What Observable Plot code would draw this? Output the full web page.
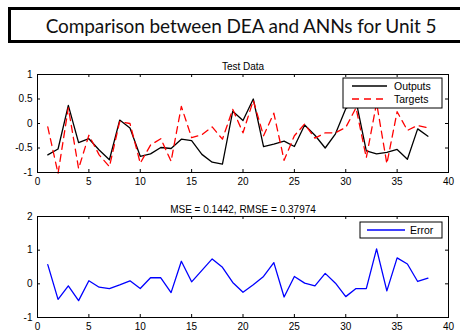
<!DOCTYPE html>
<html><head><meta charset="utf-8">
<script src="https://cdn.jsdelivr.net/npm/d3@7"></script>
<script src="https://cdn.jsdelivr.net/npm/@observablehq/plot@0.6"></script>
<style>
html,body{margin:0;padding:0;background:#fff}
body{width:460px;height:331px;overflow:hidden;position:relative;font-family:"Liberation Sans",Arial,sans-serif}
#title{position:absolute;left:8px;top:7px;width:466px;height:36px;box-sizing:border-box;border:3px solid #000;
  font-family:Lato,"Open Sans",sans-serif;font-size:19px;line-height:31px;text-align:center;color:#111;white-space:nowrap;letter-spacing:-0.1px}
#top{position:absolute;left:0;top:55px}
#bottom{position:absolute;left:0;top:190px}
</style></head>
<body>
<div id="title">Comparison between DEA and ANNs for Unit 5</div>
<div id="top"></div>
<div id="bottom"></div>
<script>
const index = [1,2,3,4,5,6,7,8,9,10,11,12,13,14,15,16,17,18,19,20,21,22,23,24,25,26,27,28,29,30,31,32,33,34,35,36,37,38];
const outputs = [-0.64,-0.52,0.37,-0.39,-0.31,-0.54,-0.74,0.07,-0.09,-0.67,-0.62,-0.49,-0.51,-0.32,-0.35,-0.63,-0.79,-0.83,0.25,0.06,0.50,-0.47,-0.42,-0.36,-0.47,-0.03,-0.24,-0.50,-0.21,0.30,0.46,-0.56,-0.62,-0.59,-0.53,-0.73,-0.11,-0.26];
const targets = [-0.07,-1.02,0.32,-0.92,-0.24,-0.64,-0.88,0.04,0.00,-0.81,-0.44,-0.31,-0.77,0.35,-0.29,-0.23,-0.07,-0.32,0.29,-0.19,0.47,-0.25,0.21,-0.75,-0.25,-0.01,-0.30,-0.19,-0.19,-0.08,0.32,-0.70,0.42,-0.82,0.24,-0.14,-0.04,-0.09];
const errors = [0.57,-0.46,-0.06,-0.50,0.09,-0.10,-0.14,-0.03,0.09,-0.14,0.18,0.18,-0.26,0.67,0.06,0.40,0.74,0.49,0.04,-0.25,-0.03,0.22,0.63,-0.39,0.22,0.02,-0.06,0.31,0.02,-0.38,-0.14,-0.14,1.04,-0.21,0.77,0.59,0.07,0.17];
const xTicks = [0,5,10,15,20,25,30,35,40];
const yTicksTop = [-1,-0.5,0,0.5,1];
const yTicksBottom = [-1,0,1,2];
const topTitle = "Test Data";
const bottomTitle = "MSE = 0.1442, RMSE = 0.37974";
const topLegend = [{label:"Outputs", color:"#000", dash:null},{label:"Targets", color:"#ff0000", dash:"7,5"}];
const bottomLegend = [{label:"Error", color:"#0000ff", dash:null}];

const rowsTop = index.map((x,i)=>({x, output: outputs[i], target: targets[i]}));
const rowsBottom = index.map((x,i)=>({x, error: errors[i]}));

function inwardTicks(yTicks, fh, fw){
  const t = 3;
  return [
    Plot.tickX(xTicks, {x: d=>d, insetTop: fh - t, stroke:"#000"}),
    Plot.tickX(xTicks, {x: d=>d, insetBottom: fh - t, stroke:"#000"}),
    Plot.tickY(yTicks, {y: d=>d, insetRight: fw - t, stroke:"#000"}),
    Plot.tickY(yTicks, {y: d=>d, insetLeft: fw - t, stroke:"#000"})
  ];
}

function addLegend(svg, items, box){
  const g = d3.select(svg).append("g");
  g.append("rect").attr("x",box.x).attr("y",box.y).attr("width",box.w).attr("height",box.h)
    .attr("fill","#fff").attr("stroke","#000").attr("stroke-width",1);
  items.forEach((it,i)=>{
    const cy = box.y + box.pad + i*box.step;
    g.append("line").attr("x1",box.x+box.l1).attr("x2",box.x+box.l2).attr("y1",cy).attr("y2",cy)
      .attr("stroke",it.color).attr("stroke-width",1.3).attr("stroke-dasharray",it.dash);
    g.append("text").attr("x",box.x+box.tx).attr("y",cy).attr("dy","0.35em")
      .attr("text-anchor","start").attr("font-size",10.5).attr("fill","#000").text(it.label);
  });
}

const W = 460;
const mL = 37, mR = 12;
const fw = W - mL - mR;

// Top plot
const hTop = 135, mTtop = 19, mBtop = 18;
const fhTop = hTop - mTtop - mBtop;
const pTop = Plot.plot({
  width: W, height: hTop, marginLeft: mL, marginRight: mR, marginTop: mTtop, marginBottom: mBtop,
  style: {fontFamily: "Liberation Sans, Arial, sans-serif", fontSize: "10px", color: "#000", background: "transparent", overflow: "visible"},
  x: {domain: [0, 40]},
  y: {domain: [-1, 1]},
  marks: [
    Plot.line(rowsTop, {x: "x", y: "output", stroke: "#000", strokeWidth: 1.3}),
    Plot.line(rowsTop, {x: "x", y: "target", stroke: "#ff0000", strokeWidth: 1.3, strokeDasharray: "7,5"}),
    ...inwardTicks(yTicksTop, fhTop, fw),
    Plot.frame({stroke: "#000", strokeWidth: 1}),
    Plot.axisX({ticks: xTicks, tickSize: 0, tickPadding: 5, label: null, fill: "#000"}),
    Plot.axisY({ticks: yTicksTop, tickSize: 0, tickPadding: 5, label: null, fill: "#000", tickFormat: d => String(d)}),
    Plot.text([topTitle], {frameAnchor: "top", dy: -12, text: d => d, fontSize: 10, fill: "#000"})
  ]
});
document.getElementById("top").appendChild(pTop);
addLegend(pTop, topLegend, {x: 343, y: 23, w: 99, h: 30, pad: 8, step: 13, l1: 9, l2: 44, tx: 51});

// Bottom plot
const hBot = 141, mTbot = 26, mBbot = 14;
const fhBot = hBot - mTbot - mBbot;
const pBot = Plot.plot({
  width: W, height: hBot, marginLeft: mL, marginRight: mR, marginTop: mTbot, marginBottom: mBbot,
  style: {fontFamily: "Liberation Sans, Arial, sans-serif", fontSize: "10px", color: "#000", background: "transparent", overflow: "visible"},
  x: {domain: [0, 40]},
  y: {domain: [-1, 2]},
  marks: [
    Plot.line(rowsBottom, {x: "x", y: "error", stroke: "#0000ff", strokeWidth: 1.3}),
    ...inwardTicks(yTicksBottom, fhBot, fw),
    Plot.frame({stroke: "#000", strokeWidth: 1}),
    Plot.axisX({ticks: xTicks, tickSize: 0, tickPadding: 5, label: null, fill: "#000"}),
    Plot.axisY({ticks: yTicksBottom, tickSize: 0, tickPadding: 5, label: null, fill: "#000", tickFormat: d => String(d)}),
    Plot.text([bottomTitle], {frameAnchor: "top", dy: -11, text: d => d, fontSize: 10, fill: "#000"})
  ]
});
document.getElementById("bottom").appendChild(pBot);
addLegend(pBot, bottomLegend, {x: 360, y: 32, w: 82, h: 16, pad: 8, step: 13, l1: 7, l2: 45, tx: 50});
</script>
</body></html>
